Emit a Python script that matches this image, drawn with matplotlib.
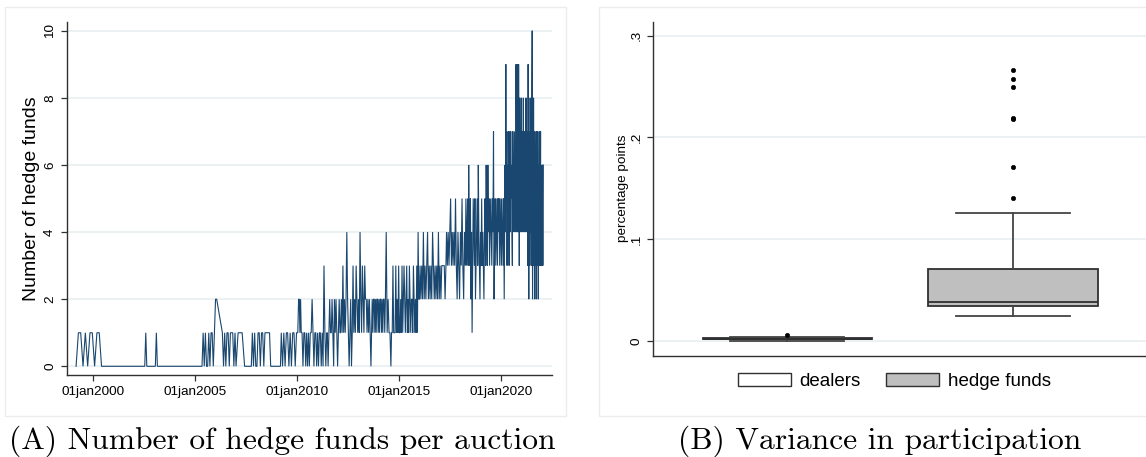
import numpy as np
import matplotlib
matplotlib.use("Agg")
import matplotlib.pyplot as plt
from matplotlib.patches import Rectangle, Patch

# ---------------------------------------------------------------
# Panel A: number of hedge funds bidding in each auction.
# Each stretch lists auction results in order; auctions within a
# stretch are spread across its (start, end) dates (decimal years).
# ---------------------------------------------------------------
hf_1999 = [0, 1, 1, 0, 1, 0, 1, 1, 0, 1, 1, 0]
span_1999 = (1999.15, 2000.40)

# sparse years: only a handful of auctions with any hedge fund
quiet_dates = [2000.45, 2002.52, 2002.57, 2002.62, 2003.04, 2003.09, 2003.14, 2005.30]
quiet_vals = [0, 0, 1, 0, 0, 1, 0, 0]

hf_2005 = [0, 1, 0, 1, 0, 0, 1, 0, 1, 1, 0, 1, 2, 2]
span_2005 = (2005.33, 2006.05)
hf_2006 = [1, 0, 1, 0, 1, 1, 0, 1, 1, 1, 0, 1]
span_2006 = (2006.33, 2006.95)
hf_2007a = [0, 1, 1, 1]
span_2007a = (2007.00, 2007.30)
hf_2007b = [0, 0]
span_2007b = (2007.42, 2007.75)
hf_2008 = [1, 0, 1, 0, 0, 1, 1, 0, 1, 1, 0, 1, 1, 1, 1, 1, 0]
span_2008 = (2007.80, 2008.70)
hf_2009a = [0, 0]
span_2009a = (2008.85, 2009.18)
hf_2009b = [1, 0, 1, 0, 1, 1, 0, 1, 0, 1, 1, 0, 1, 1]
span_2009b = (2009.22, 2010.03)
hf_2010a = [2, 2, 1, 2, 1]
span_2010a = (2010.07, 2010.20)
hf_2010b = [1, 0, 1, 1, 0, 1, 0, 1, 0, 1, 1, 2, 1, 0, 1, 1, 0, 1, 0, 1, 1, 0, 1,
            0, 3, 1, 0, 1]
span_2010b = (2010.24, 2011.45)
hf_2011 = [1, 0, 1, 2, 1, 1, 2, 1, 0, 2, 1, 2, 1, 0, 1, 2, 1]
span_2011 = (2011.48, 2012.10)
hf_2012 = [1, 2, 1, 3, 1, 2, 1, 2, 4, 2, 1, 0, 1, 2, 0, 1, 3, 1, 2, 1, 3, 2, 1, 2,
           1, 4, 2, 1, 3, 2, 1, 3, 2, 2, 1, 2, 1, 2, 1, 0]
span_2012 = (2012.13, 2013.62)
hf_2013 = [1, 2, 1, 2, 2, 1, 2, 1, 2, 2, 1, 2, 1, 2, 2, 1, 2, 1, 2, 2, 1, 2]
span_2013 = (2013.65, 2014.33)
hf_2014a = [4, 1, 2, 1, 1, 0]
span_2014a = (2014.37, 2014.60)
hf_2014b = [1, 1, 3, 1, 1, 1, 3, 1, 2, 1, 3, 1, 1]
span_2014b = (2014.63, 2015.05)
hf_2015 = [2, 1, 3, 1, 2, 3, 2, 1, 2, 3, 1, 2, 1, 3, 2, 1, 2, 2, 1, 3, 2, 1, 2, 1,
           3, 1, 4, 2, 2]
span_2015 = (2015.08, 2016.00)
hf_2016 = [3, 2, 3, 2, 4, 2, 3, 2, 3, 4, 2, 3, 2, 3, 2, 4, 3, 2, 3, 2, 3, 2, 4, 2,
           3, 2, 3, 3, 3, 3, 2, 3]
span_2016 = (2016.03, 2017.30)
hf_2017 = [4, 3, 4, 3, 4, 5, 3, 4, 3, 4, 3, 5, 3, 2, 4, 3, 2, 4, 3, 5, 3, 2, 4, 3]
span_2017 = (2017.33, 2018.25)
hf_2018 = [5, 3, 4, 5, 3, 6, 4, 3, 5, 2, 4, 1, 3, 5, 4, 3, 5, 2, 3, 4, 5, 3, 6, 4,
           3, 2, 4, 3, 5, 3, 4, 3, 2, 4, 5, 3, 6, 4, 3, 6, 4, 5, 3, 4, 5, 4, 3, 5,
           4, 7, 2, 4, 5, 3, 4, 5, 3, 5, 4, 5, 3, 4, 5, 3, 5, 4, 3, 5, 2]
span_2018 = (2018.28, 2020.16)
hf_2020a = [6, 4, 9, 5, 7, 3, 6, 4, 7, 5, 3, 6, 7, 4, 7, 5, 6, 4, 3, 7, 5, 6, 4, 7,
            6, 5, 4, 9, 6, 4]
span_2020a = (2020.20, 2020.78)
hf_2020b = [9, 5, 7, 4, 9, 6, 3, 8, 5, 7, 4, 6, 8, 4, 7, 5, 6, 4, 8, 5, 7, 4, 6, 5,
            7, 4, 8, 5, 6, 4]
span_2020b = (2020.80, 2021.28)
hf_2021a = [7, 3, 9, 5, 2, 7, 6, 3, 8, 4, 6, 5, 3, 8, 10, 2, 7, 4, 8, 3, 6, 2, 7, 5, 3]
span_2021a = (2021.30, 2021.70)
hf_2021b = [6, 2, 7, 3, 5, 7, 3, 6, 2, 5, 4, 7, 3, 6, 3, 5, 7, 3, 6, 4, 3, 6, 3, 6, 3, 6]
span_2021b = (2021.72, 2022.07)

stretches = [
    (span_1999, hf_1999), (span_2005, hf_2005), (span_2006, hf_2006),
    (span_2007a, hf_2007a), (span_2007b, hf_2007b), (span_2008, hf_2008),
    (span_2009a, hf_2009a), (span_2009b, hf_2009b), (span_2010a, hf_2010a),
    (span_2010b, hf_2010b), (span_2011, hf_2011), (span_2012, hf_2012),
    (span_2013, hf_2013), (span_2014a, hf_2014a), (span_2014b, hf_2014b),
    (span_2015, hf_2015), (span_2016, hf_2016), (span_2017, hf_2017),
    (span_2018, hf_2018), (span_2020a, hf_2020a), (span_2020b, hf_2020b),
    (span_2021a, hf_2021a), (span_2021b, hf_2021b),
]

year_ticks = [2000, 2005, 2010, 2015, 2020]
year_labels = ["01jan2000", "01jan2005", "01jan2010", "01jan2015", "01jan2020"]
count_ticks = [0, 2, 4, 6, 8, 10]

# ---------------------------------------------------------------
# Panel B: variance in participation (percentage points)
# ---------------------------------------------------------------
groups = ["dealers", "hedge funds"]
box_q1 = [0.0018, 0.0349]
box_med = [0.0022, 0.0389]
box_q3 = [0.0028, 0.0707]
whisk_lo = [0.0000, 0.0248]
whisk_hi = [0.0045, 0.1256]
outliers_dealers = [0.0059]
outliers_hedge = [0.1409, 0.1713, 0.2183, 0.2193, 0.2493, 0.2571, 0.2662]
box_fill = ["#ffffff", "#bfbfbf"]
var_ticks = [0, 0.1, 0.2, 0.3]
var_labels = ["0", ".1", ".2", ".3"]

# ---------------------------------------------------------------
W, H = 1146, 457
fig = plt.figure(figsize=(W / 100, H / 100), dpi=100)
fig.patch.set_facecolor("white")

SANS = ["Liberation Sans", "DejaVu Sans"]
NAVY = "#1a476f"
GRID = "#e9f0f1"
AXC = "#303030"


def px_axes(x0, y0, x1, y1):
    return fig.add_axes([x0 / W, 1 - y1 / H, (x1 - x0) / W, (y1 - y0) / H])


# light frames around each panel
for (fx0, fy0, fx1, fy1) in [(5, 7, 566, 416), (599, 7, 1170, 416)]:
    fig.add_artist(Rectangle((fx0 / W, 1 - fy1 / H), (fx1 - fx0) / W, (fy1 - fy0) / H,
                             transform=fig.transFigure, fill=False,
                             edgecolor="#ececec", lw=1.0))

# ---------- Panel A ----------
axA = px_axes(66.7, 21.7, 552.3, 375.3)
dates, vals = [], []
for (a, b), v in stretches:
    dates.extend(np.linspace(a, b, len(v)))
    vals.extend(v)
dates.extend(quiet_dates)
vals.extend(quiet_vals)
order = np.argsort(dates)
dates = np.asarray(dates)[order]
vals = np.asarray(vals)[order]

axA.plot(dates, vals, color=NAVY, lw=0.8, solid_joinstyle="miter")
axA.set_xlim(1998.69, 2022.52)
axA.set_ylim(-0.268, 10.268)
axA.set_xticks(year_ticks)
axA.set_xticklabels(year_labels, fontfamily=SANS, fontsize=9.7)
axA.set_yticks(count_ticks)
axA.set_yticklabels([str(t) for t in count_ticks], fontfamily=SANS, fontsize=9.7,
                    rotation=90, va="center")
axA.set_ylabel("Number of hedge funds", fontfamily=SANS, fontsize=14)
axA.yaxis.set_label_coords(-0.055, 0.5)
for t in count_ticks:
    axA.axhline(t, color=GRID, lw=1.2, zorder=0)

# ---------- Panel B ----------
axB = px_axes(653.3, 21.7, 1147.0, 355.7)
positions = [0.2714, 0.7286]
stats = []
fliers = [outliers_dealers, outliers_hedge]
for i, g in enumerate(groups):
    stats.append(dict(label=g, med=box_med[i], q1=box_q1[i], q3=box_q3[i],
                      whislo=whisk_lo[i], whishi=whisk_hi[i], fliers=fliers[i]))
bp = axB.bxp(stats, positions=positions, widths=[0.343, 0.343],
             capwidths=[0.231, 0.231], patch_artist=True, showfliers=True,
             boxprops=dict(edgecolor=AXC, lw=1.3),
             medianprops=dict(color=AXC, lw=1.3),
             whiskerprops=dict(color="#444444", lw=1.3),
             capprops=dict(color="#444444", lw=1.3),
             flierprops=dict(marker="o", markersize=3.2, markerfacecolor="black",
                             markeredgecolor="black", markeredgewidth=0.4))
for patch, fc in zip(bp["boxes"], box_fill):
    patch.set_facecolor(fc)

axB.set_xlim(0, 1)
axB.set_ylim(-0.01413, 0.3136)
axB.set_xticks([])
axB.set_yticks(var_ticks)
axB.set_yticklabels(var_labels, fontfamily=SANS, fontsize=9.7, rotation=90, va="center")
axB.set_ylabel("percentage points", fontfamily=SANS, fontsize=9.7)
axB.yaxis.set_label_coords(-0.050, 0.5)
for t in var_ticks:
    axB.axhline(t, color=GRID, lw=1.2, zorder=0)

for ax in (axA, axB):
    for s in ("top", "right"):
        ax.spines[s].set_visible(False)
    for s in ("left", "bottom"):
        ax.spines[s].set_color(AXC)
        ax.spines[s].set_linewidth(1.0)
    ax.tick_params(axis="both", colors=AXC, length=4.2, width=0.9, pad=3.5,
                   labelcolor="black")
axB.tick_params(axis="x", length=0)

handles = [Patch(facecolor=c, edgecolor=AXC, lw=1.0, label=g)
           for g, c in zip(groups, box_fill)]
fig.legend(handles=handles, loc="center", ncol=2, frameon=False,
           bbox_to_anchor=(894.4 / W, 1 - 381.7 / H),
           prop=dict(family=SANS, size=13.5), handlelength=2.8,
           handleheight=0.71, handletextpad=0.46, columnspacing=1.38,
           borderpad=0, borderaxespad=0)

# ---------- Captions ----------
fig.text(282 / W, 1 - 449 / H, "(A) Number of hedge funds per auction",
         fontfamily="cmr10", fontsize=22.7, ha="center", va="baseline")
fig.text(880 / W, 1 - 449 / H, "(B) Variance in participation",
         fontfamily="cmr10", fontsize=22.7, ha="center", va="baseline")

fig.savefig("out.png", dpi=100, facecolor="white")
